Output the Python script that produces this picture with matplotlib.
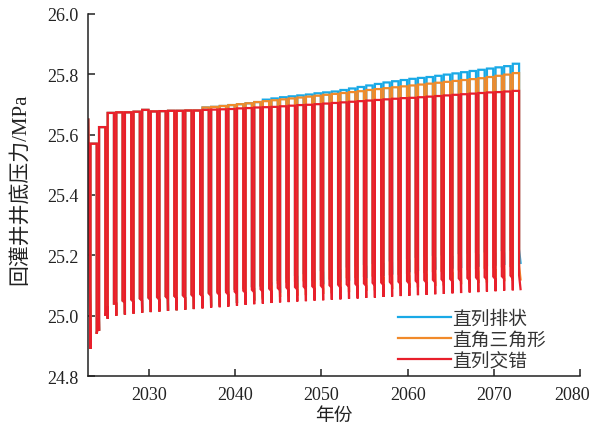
import numpy as np
import matplotlib.pyplot as plt
import matplotlib.transforms as mtransforms

# injection cycles, one per year
years = list(range(2023, 2073))

# plateau (peak) pressure of each yearly cycle, MPa
peak_row = [25.570, 25.625, 25.672, 25.674, 25.674, 25.676, 25.682, 25.677, 25.678, 25.679,
            25.679, 25.680, 25.680, 25.682, 25.683, 25.684, 25.685, 25.687, 25.688, 25.690,
            25.691, 25.692, 25.694, 25.696, 25.698, 25.699, 25.701, 25.703, 25.705, 25.707,
            25.709, 25.711, 25.713, 25.715, 25.717, 25.719, 25.721, 25.722, 25.724, 25.726,
            25.728, 25.730, 25.732, 25.734, 25.736, 25.738, 25.740, 25.741, 25.743, 25.745]
peak_tri = [25.570, 25.625, 25.672, 25.674, 25.674, 25.676, 25.682, 25.677, 25.678, 25.679,
            25.679, 25.680, 25.680, 25.690, 25.692, 25.695, 25.698, 25.701, 25.704, 25.708,
            25.711, 25.714, 25.717, 25.720, 25.723, 25.726, 25.729, 25.732, 25.735, 25.738,
            25.741, 25.744, 25.748, 25.751, 25.754, 25.757, 25.760, 25.763, 25.766, 25.769,
            25.772, 25.775, 25.778, 25.781, 25.784, 25.787, 25.791, 25.795, 25.799, 25.804]
peak_line = [25.570, 25.625, 25.672, 25.674, 25.674, 25.676, 25.682, 25.677, 25.678, 25.679,
             25.679, 25.680, 25.680, 25.690, 25.692, 25.695, 25.698, 25.701, 25.704, 25.708,
             25.716, 25.720, 25.724, 25.727, 25.730, 25.733, 25.737, 25.740, 25.743, 25.748,
             25.753, 25.758, 25.763, 25.768, 25.773, 25.777, 25.781, 25.785, 25.788, 25.791,
             25.795, 25.799, 25.803, 25.807, 25.811, 25.815, 25.819, 25.823, 25.827, 25.835]

# trough pressure before each cycle (+ final one after the last cycle)
low_stag = [24.890, 24.950, 24.990, 25.000, 25.004, 25.007, 25.010, 25.012, 25.014, 25.016,
            25.018, 25.020, 25.022, 25.024, 25.026, 25.028, 25.030, 25.033, 25.036, 25.038,
            25.040, 25.042, 25.044, 25.045, 25.047, 25.048, 25.050, 25.051, 25.053, 25.054,
            25.056, 25.057, 25.059, 25.060, 25.062, 25.063, 25.065, 25.066, 25.068, 25.069,
            25.071, 25.072, 25.074, 25.075, 25.077, 25.078, 25.080, 25.081, 25.083, 25.084,
            25.088]
low_tri = [24.890, 24.950, 24.990, 25.000, 25.004, 25.007, 25.010, 25.012, 25.014, 25.016,
           25.018, 25.020, 25.022, 25.026, 25.030, 25.034, 25.038, 25.042, 25.046, 25.050,
           25.054, 25.058, 25.062, 25.064, 25.066, 25.068, 25.070, 25.072, 25.074, 25.076,
           25.078, 25.080, 25.082, 25.084, 25.086, 25.088, 25.090, 25.092, 25.094, 25.096,
           25.098, 25.100, 25.102, 25.104, 25.106, 25.108, 25.110, 25.112, 25.114, 25.116,
           25.120]
low_line = [24.890, 24.950, 24.990, 25.000, 25.004, 25.007, 25.010, 25.012, 25.014, 25.016,
            25.018, 25.020, 25.022, 25.026, 25.030, 25.034, 25.038, 25.042, 25.046, 25.050,
            25.060, 25.068, 25.076, 25.084, 25.090, 25.096, 25.100, 25.104, 25.108, 25.112,
            25.116, 25.120, 25.124, 25.128, 25.132, 25.136, 25.140, 25.144, 25.148, 25.150,
            25.152, 25.154, 25.156, 25.158, 25.160, 25.162, 25.164, 25.166, 25.168, 25.170,
            25.175]
start_p = 25.65

labels = ['直列排状', '直角三角形', '直列交错']
colors = ['#19a9e6', '#f18a2a', '#e81f2b']


def cycle_curve(peaks, lows):
    """Yearly square wave: shut-in drop, short recovery, jump back to the plateau."""
    t = [years[0] - 0.05]
    p = [start_p]
    for y, pk, lo in zip(years, peaks, lows[:-1]):
        t += [y + 0.18, y + 0.20, y + 0.20, y + 0.93, y + 0.93]
        p += [lo + 0.04, lo, pk, pk, lo + 0.05]
    t.append(years[-1] + 1.1)
    p.append(lows[-1])
    return np.array(t), np.array(p)


fig = plt.figure(figsize=(5.96, 4.27), dpi=100)
ax = fig.add_axes([0.1477, 0.117, 0.8255, 0.848])

series = [(peak_line, low_line), (peak_tri, low_tri), (peak_row, low_stag)]
for (pk, lo), lab, c in zip(series, labels, colors):
    t, p = cycle_curve(pk, lo)
    ax.plot(t, p, color=c, lw=1.6, label=lab, solid_joinstyle='miter')

ax.set_xlim(2022.92, 2080)
ax.set_ylim(24.8, 26.0)
ax.set_xticks([2030, 2040, 2050, 2060, 2070, 2080])
yt = np.arange(24.8, 26.01, 0.2)
ax.set_yticks(yt)
ax.set_yticklabels([f'{v:.1f}' for v in yt])

for s in ['top', 'right']:
    ax.spines[s].set_visible(False)
for s in ['left', 'bottom']:
    ax.spines[s].set_linewidth(1.1)
    ax.spines[s].set_color('#222222')

ax.tick_params(direction='in', length=5, width=1.1, colors='#222222', pad=7)
for lbl in ax.get_xticklabels() + ax.get_yticklabels():
    lbl.set_fontfamily('Liberation Serif')
    lbl.set_fontsize(13)

# last x label sits a little left so it stays inside the figure
last = ax.get_xticklabels()[-1]
last.set_transform(last.get_transform() +
                   mtransforms.ScaledTranslation(-8 / 100, 0, fig.dpi_scale_trans))

cjk = ['Liberation Serif', 'Noto Sans CJK SC']
ax.set_xlabel('年份', family=cjk, fontsize=13.5, color='#222222')
ax.xaxis.set_label_coords(0.5, -0.085)
ax.set_ylabel('回灌井井底压力/MPa', family=cjk, fontsize=15, color='#222222')
ax.yaxis.set_label_coords(-0.118, 0.52)

leg = ax.legend(loc='upper left', bbox_to_anchor=(398 / 596, 1 - 309 / 427),
                bbox_transform=fig.transFigure, frameon=False,
                prop={'family': 'Noto Sans CJK SC', 'size': 13.5},
                handlelength=2.8, handletextpad=0.1, labelspacing=0.0,
                borderaxespad=0, borderpad=0)
for t in leg.get_texts():
    t.set_color('#333333')

fig.savefig('out.png', dpi=100)
